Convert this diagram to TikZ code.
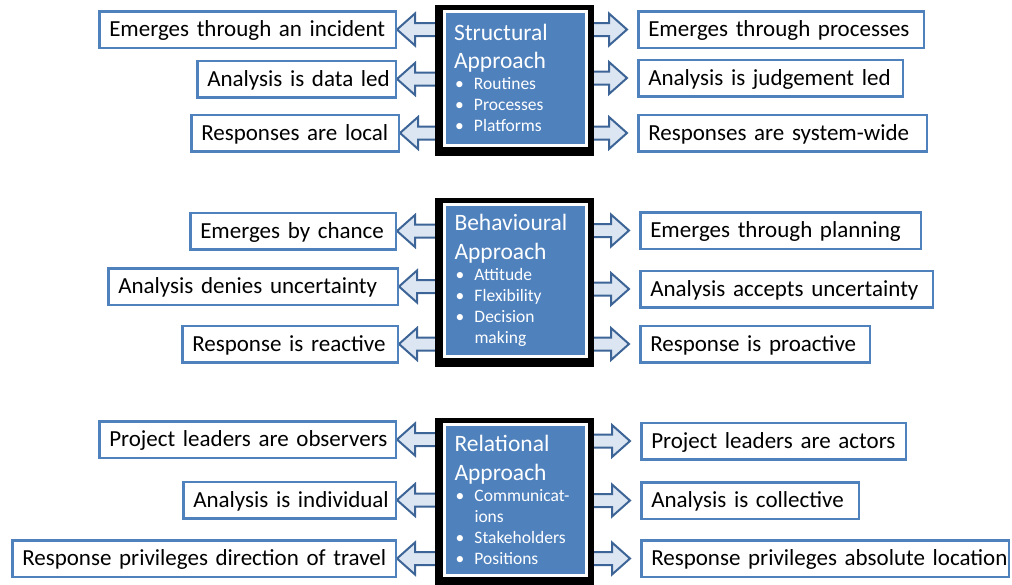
\documentclass[tikz,border=0pt]{standalone}
\usepackage{fontspec}
\setmainfont{Carlito}
\usetikzlibrary{calc,backgrounds}
\definecolor{coreblue}{RGB}{79,129,189}
\definecolor{sideblue}{RGB}{79,129,189}
\definecolor{arrowfill}{RGB}{220,230,242}
\definecolor{arrowline}{RGB}{60,100,150}
% text of the approach boxes: heading, then bullet lines
\newcommand{\bul}{\par\hangindent=20pt\hangafter=1\relax\makebox[20pt][l]{\hspace{1pt}\textbullet}}
\newcommand{\coretext}[2]{\parindent=0pt\raggedright #1\par\fontsize{17.5}{21}\selectfont #2\par}

\tikzset{
  sidebox/.style={draw=sideblue, line width=2.5pt, fill=white, minimum height=36.5pt,
    inner xsep=10pt, text height=15pt, text depth=0.4pt,
    font=\fontsize{23}{28}\selectfont,
    execute at begin node={\hbox\bgroup}, execute at end node={\egroup}},
  corebox/.style={fill=coreblue, draw=white, line width=3pt, minimum width=142pt,
    text width=122pt, inner xsep=10pt, text=white,
    font=\fontsize{23.5}{28.5}\selectfont},
  coreframe/.style={fill=black},
  rarrow/.style={draw=arrowline, fill=arrowfill, line width=2pt, line join=miter,
    to path={let \p1=(\tikztostart), \p2=(\tikztotarget) in
      (\x1,\y1+6.5pt) -- (\x2-18pt,\y1+6.5pt) -- (\x2-18pt,\y1+16pt) -- (\x2,\y1)
      -- (\x2-18pt,\y1-16pt) -- (\x2-18pt,\y1-6.5pt) -- (\x1,\y1-6.5pt)}},
  larrow/.style={draw=arrowline, fill=arrowfill, line width=2pt, line join=miter,
    to path={let \p1=(\tikztostart), \p2=(\tikztotarget) in
      (\x1,\y1+6.5pt) -- (\x2+18pt,\y1+6.5pt) -- (\x2+18pt,\y1+16pt) -- (\x2,\y1)
      -- (\x2+18pt,\y1-16pt) -- (\x2+18pt,\y1-6.5pt) -- (\x1,\y1-6.5pt)}}
}

\begin{document}
\begin{tikzpicture}[x=1pt,y=-1pt]
\useasboundingbox (0,0) rectangle (1012,584);

% Structural approach
\node[corebox, minimum height=134pt] (c1) at (515,78) {\coretext{Structural\par Approach}{\bul Routines\bul Processes\bul Platforms}};
\node[sidebox, anchor=east, text width=276.5pt] (l1) at (397,29.5) {Emerges through an incident};
\node[sidebox, anchor=east, text width=178.5pt] (l2) at (397,79) {Analysis is data led};
\node[sidebox, anchor=east, text width=187.5pt] (l3) at (400,133) {Responses are local};
\node[sidebox, anchor=west, text width=265.5pt] (r1) at (637,29.5) {Emerges through processes};
\node[sidebox, anchor=west, text width=244.5pt] (r2) at (637,78) {Analysis is judgement led};
\node[sidebox, anchor=west, text width=268.5pt] (r3) at (637,133) {Responses are system-wide};

% Behavioural approach
\node[corebox, minimum height=152pt] (c2) at (515.5,280.5) {\coretext{Behavioural\par Approach}{\bul Attitude\bul Flexibility\bul Decision\linebreak making}};
\node[sidebox, anchor=east, text width=185.5pt] (l4) at (397,231) {Emerges by chance};
\node[sidebox, anchor=east, text width=269.5pt] (l5) at (399,286.5) {Analysis denies uncertainty};
\node[sidebox, anchor=east, text width=195.5pt] (l6) at (399,344) {Response is reactive};
\node[sidebox, anchor=west, text width=260.5pt] (r4) at (639,230.5) {Emerges through planning};
\node[sidebox, anchor=west, text width=272.5pt] (r5) at (639,289) {Analysis accepts uncertainty};
\node[sidebox, anchor=west, text width=209.5pt] (r6) at (639,344) {Response is proactive};

% Relational approach
\node[corebox, minimum height=151pt] (c3) at (515.5,500) {\coretext{Relational\par Approach}{\bul Communicat-\linebreak ions\bul Stakeholders\bul Positions}};
\node[sidebox, anchor=east, text width=276.5pt] (l7) at (397,439.5) {Project leaders are observers};
\node[sidebox, anchor=east, text width=192.5pt] (l8) at (397,500) {Analysis is individual};
\node[sidebox, anchor=east, text width=363.5pt] (l9) at (397,558.5) {Response privileges direction of travel};
\node[sidebox, anchor=west, text width=244.5pt] (r7) at (640,441) {Project leaders are actors};
\node[sidebox, anchor=west, text width=197.5pt] (r8) at (640,500.5) {Analysis is collective};
\node[sidebox, anchor=west, text width=347.5pt] (r9) at (640,558.5) {Response privileges absolute location};

% block arrows and black frames, under the boxes
\begin{pgfonlayer}{background}
\draw[larrow] (c1.west |- l1.east) to (l1.east);
\draw[larrow] (c1.west |- l2.east) to (l2.east);
\draw[larrow] (c1.west |- l3.east) to (l3.east);
\draw[rarrow] (c1.east |- r1.west) to ([xshift=-10pt]r1.west);
\draw[rarrow] (c1.east |- r2.west) to ([xshift=-10pt]r2.west);
\draw[rarrow] (c1.east |- r3.west) to ([xshift=-10pt]r3.west);
\draw[larrow] (c2.west |- l4.east) to (l4.east);
\draw[larrow] (c2.west |- l5.east) to (l5.east);
\draw[larrow] (c2.west |- l6.east) to (l6.east);
\draw[rarrow] (c2.east |- r4.west) to ([xshift=-10pt]r4.west);
\draw[rarrow] (c2.east |- r5.west) to ([xshift=-10pt]r5.west);
\draw[rarrow] (c2.east |- r6.west) to ([xshift=-10pt]r6.west);
\draw[larrow] (c3.west |- l7.east) to (l7.east);
\draw[larrow] (c3.west |- l8.east) to (l8.east);
\draw[larrow] (c3.west |- l9.east) to (l9.east);
\draw[rarrow] (c3.east |- r7.west) to ([xshift=-10pt]r7.west);
\draw[rarrow] (c3.east |- r8.west) to ([xshift=-10pt]r8.west);
\draw[rarrow] (c3.east |- r9.west) to ([xshift=-10pt]r9.west);
\fill[coreframe] ([shift={(-8pt,5pt)}]c1.north west) rectangle ([shift={(6pt,-9pt)}]c1.south east);
\fill[coreframe] ([shift={(-8pt,5pt)}]c2.north west) rectangle ([shift={(6pt,-9pt)}]c2.south east);
\fill[coreframe] ([shift={(-8pt,5pt)}]c3.north west) rectangle ([shift={(6pt,-9pt)}]c3.south east);
\end{pgfonlayer}
\end{tikzpicture}
\end{document}
